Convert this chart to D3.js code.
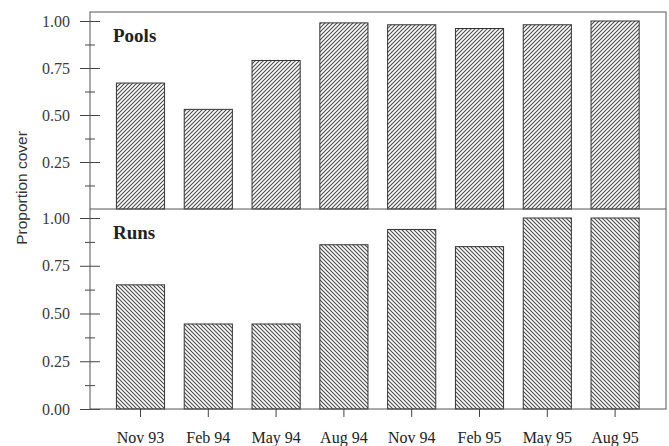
<!DOCTYPE html>
<html><head><meta charset="utf-8">
<script src="https://cdn.jsdelivr.net/npm/d3@7/dist/d3.min.js"></script>
<style>body{margin:0;background:#fff}svg{display:block}</style>
</head><body>
<script>
const categories = ["Nov 93","Feb 94","May 94","Aug 94","Nov 94","Feb 95","May 95","Aug 95"];
const pools = [0.67,0.53,0.79,0.99,0.98,0.96,0.98,1.00];
const runs  = [0.65,0.445,0.445,0.86,0.94,0.85,1.00,1.00];
const topTicks = [0.25,0.5,0.75,1.0];
const bottomTicks = [0,0.25,0.5,0.75,1.0];
const minorTicks = [0.125,0.375,0.625,0.875];
const panelNames = ["Pools","Runs"];
const yLabel = "Proportion cover";

(function(){
const W=669,H=446;
const mL=90,mR=666,mT=12,mM=209,mB=409;
const serif="'Liberation Serif','Times New Roman',serif";
const svg=d3.select("body").append("svg").attr("width",W).attr("height",H);
const defs=svg.append("defs");
function hatch(id,dir){
  const p=defs.append("pattern").attr("id",id).attr("patternUnits","userSpaceOnUse").attr("width",4).attr("height",4);
  p.append("rect").attr("width",4).attr("height",4).attr("fill","#fff");
  const d = dir>0 ? "M0,4L4,0M-1,1L1,-1M3,5L5,3" : "M0,0L4,4M-1,3L1,5M3,-1L5,1";
  p.append("path").attr("d",d).attr("stroke","#4a4a4a").attr("stroke-width",1.1);
}
hatch("h1",1); hatch("h2",-1);

const x=d3.scaleBand().domain(categories).range([106.6,649]).paddingInner(0.29).paddingOuter(0.145);
const yTop=d3.scaleLinear().domain([0,1]).range([209,21]);
const yBot=d3.scaleLinear().domain([0,1]).range([409,218]);
const ink="#444";

function panel(vals,y,pat,ticks,name,nameY){
  const g=svg.append("g");
  g.selectAll("rect.bar").data(vals).join("rect").attr("class","bar")
    .attr("x",(d,i)=>x(categories[i])).attr("width",x.bandwidth())
    .attr("y",d=>y(d)).attr("height",d=>y(0)-y(d))
    .attr("fill",`url(#${pat})`).attr("stroke","#333").attr("stroke-width",1);
  const ax=svg.append("g").attr("transform",`translate(${mL},0)`)
    .call(d3.axisLeft(y).tickValues(ticks).tickFormat(d3.format(".2f")).tickSize(10).tickPadding(10));
  ax.select(".domain").remove();
  ax.selectAll(".tick line").attr("x1",10).attr("stroke",ink);
  ax.selectAll(".tick text").attr("font-size",16).attr("fill","#3a3a3a").style("font-family",serif);
  const mn=svg.append("g").attr("transform",`translate(${mL},0)`)
    .call(d3.axisLeft(y).tickValues(minorTicks).tickFormat("").tickSize(5));
  mn.select(".domain").remove();
  mn.selectAll(".tick line").attr("x1",5).attr("stroke",ink);
  svg.append("text").attr("x",113).attr("y",nameY).attr("font-size",19).attr("font-weight","bold")
    .attr("fill","#222").style("font-family",serif).text(name);
}
panel(pools,yTop,"h1",topTicks,panelNames[0],42);
panel(runs,yBot,"h2",bottomTicks,panelNames[1],239);

svg.append("rect").attr("x",mL).attr("y",mT).attr("width",mR-mL).attr("height",mB-mT)
  .attr("fill","none").attr("stroke","#555").attr("stroke-width",1);
svg.append("line").attr("x1",mL).attr("x2",mR).attr("y1",mM).attr("y2",mM).attr("stroke","#555");

const xa=svg.append("g").attr("transform",`translate(0,${mB})`)
  .call(d3.axisBottom(x).tickSize(8).tickPadding(15));
xa.select(".domain").remove();
xa.selectAll(".tick line").attr("stroke",ink);
xa.selectAll(".tick text").attr("font-size",16).attr("fill","#222").style("font-family",serif);

svg.append("text").attr("transform","translate(21,188) rotate(-90)").attr("text-anchor","middle")
  .attr("dominant-baseline","central")
  .attr("font-size",15.5).attr("fill","#333").style("font-family","'Liberation Sans',Arial,sans-serif").text(yLabel);
})();
</script>
</body></html>
